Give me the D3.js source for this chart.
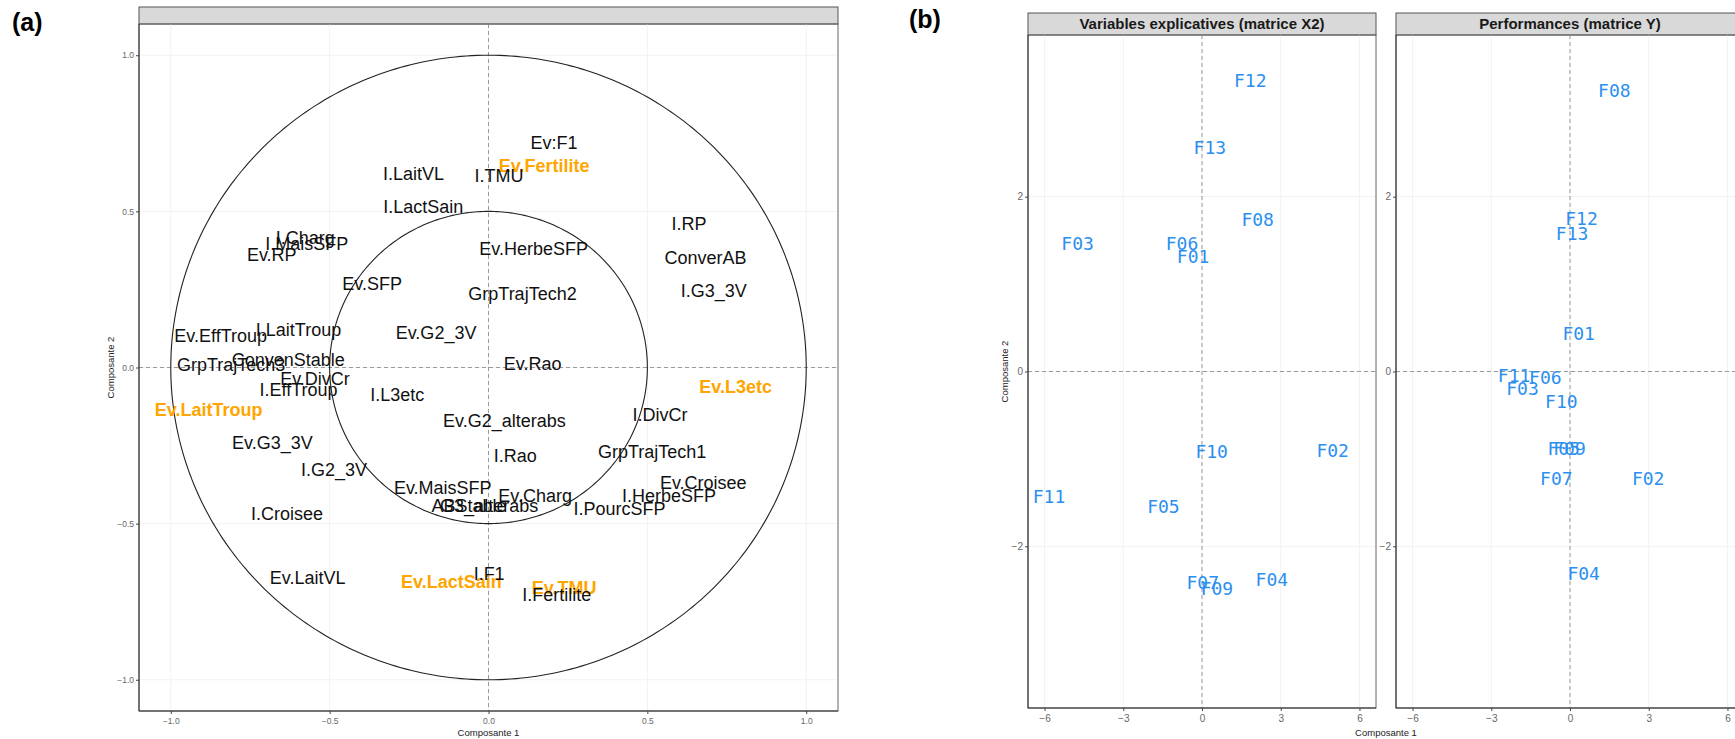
<!DOCTYPE html>
<html><head><meta charset="utf-8">
<script src="https://cdn.jsdelivr.net/npm/d3@7/dist/d3.min.js"></script>
<style>body{margin:0;background:#fff}svg{display:block}</style>
</head><body>
<script>
// ---------- Data: panel (a) correlation circle ----------
const varNames = ["Ev:F1","Ev.Fertilite","I.LaitVL","I.TMU","I.LactSain","I.Charg","I.MaisSFP","Ev.RP","I.RP","Ev.HerbeSFP","ConverAB","Ev.SFP","GrpTrajTech2","I.G3_3V","Ev.EffTroup","I.LaitTroup","Ev.G2_3V","ConvenStable","GrpTrajTech3","Ev.Rao","Ev.DivCr","I.EffTroup","I.L3etc","Ev.L3etc","Ev.LaitTroup","Ev.G2_alterabs","I.DivCr","Ev.G3_3V","I.Rao","GrpTrajTech1","I.G2_3V","Ev.Croisee","Ev.MaisSFP","Ev.Charg","I.HerbeSFP","ABStable","G3_alterabs","I.PourcSFP","I.Croisee","I.F1","Ev.LaitVL","Ev.LactSain","Ev.TMU","I.Fertilite"];
const varComp1 = [0.206,0.175,-0.236,0.033,-0.205,-0.577,-0.572,-0.682,0.631,0.142,0.683,-0.366,0.107,0.709,-0.843,-0.598,-0.165,-0.630,-0.810,0.139,-0.546,-0.598,-0.287,0.778,-0.881,0.050,0.540,-0.680,0.084,0.515,-0.486,0.676,-0.144,0.147,0.568,-0.061,0.002,0.412,-0.634,0.002,-0.569,-0.117,0.238,0.215];
const varComp2 = [0.720,0.645,0.621,0.615,0.514,0.416,0.397,0.360,0.459,0.379,0.352,0.267,0.237,0.246,0.101,0.122,0.112,0.026,0.008,0.011,-0.035,-0.070,-0.086,-0.063,-0.136,-0.170,-0.152,-0.242,-0.282,-0.271,-0.328,-0.370,-0.386,-0.410,-0.410,-0.442,-0.442,-0.452,-0.468,-0.660,-0.674,-0.687,-0.706,-0.727];
const highlighted = ["Ev.Fertilite","Ev.L3etc","Ev.LaitTroup","Ev.LactSain","Ev.TMU"];
const circleRadii = [1, 0.5];
const ticksA = [-1.0,-0.5,0.0,0.5,1.0];

// ---------- Data: panel (b) individuals ----------
const facetTitles = ["Variables explicatives (matrice X2)","Performances (matrice Y)"];
const farmIds = ["F01","F02","F03","F04","F05","F06","F07","F08","F09","F10","F11","F12","F13"];
const xX2c1 = [-0.34,4.98,-4.74,2.66,-1.47,-0.76,0.03,2.12,0.57,0.37,-5.83,1.84,0.30];
const xX2c2 = [1.31,-0.90,1.46,-2.38,-1.54,1.46,-2.42,1.74,-2.48,-0.91,-1.43,3.33,2.56];
const yYc1 = [0.33,2.98,-1.81,0.52,-0.24,-0.94,-0.52,1.69,-0.02,-0.33,-2.13,0.44,0.08];
const yYc2 = [0.44,-1.23,-0.19,-2.31,-0.88,-0.07,-1.22,3.22,-0.88,-0.34,-0.05,1.75,1.58];
const ticksBx = [-6,-3,0,3,6];
const ticksBy = [-2,0,2];

const W = 1735, H = 739;
const svg = d3.select("body").append("svg").attr("width", W).attr("height", H)
  .style("font-family", "'Liberation Sans', Arial, sans-serif");

const fmt = d => d3.format(".1f")(d);

// ================= Panel (a) =================
const A = {left:139, right:838, top:24, bottom:711, stripTop:7};
const xA = d3.scaleLinear().domain([-1.1,1.1]).range([A.left, A.right]);
const yA = d3.scaleLinear().domain([-1.1,1.1]).range([A.bottom, A.top]);
const gA = svg.append("g");

// strip
gA.append("rect").attr("x", A.left).attr("y", A.stripTop).attr("width", A.right-A.left)
  .attr("height", A.top-A.stripTop).attr("fill", "#d9d9d9").attr("stroke", "#555").attr("stroke-width", 1);
// grid
gA.append("g").selectAll("line").data(ticksA).join("line")
  .attr("x1", d=>xA(d)).attr("x2", d=>xA(d)).attr("y1", A.top).attr("y2", A.bottom)
  .attr("stroke", "#f2f2f2");
gA.append("g").selectAll("line").data(ticksA).join("line")
  .attr("y1", d=>yA(d)).attr("y2", d=>yA(d)).attr("x1", A.left).attr("x2", A.right)
  .attr("stroke", "#f2f2f2");
// zero dashed lines
gA.append("line").attr("x1", xA(0)).attr("x2", xA(0)).attr("y1", A.top).attr("y2", A.bottom)
  .attr("stroke", "#9a9a9a").attr("stroke-dasharray", "4,3");
gA.append("line").attr("y1", yA(0)).attr("y2", yA(0)).attr("x1", A.left).attr("x2", A.right)
  .attr("stroke", "#9a9a9a").attr("stroke-dasharray", "4,3");
// circles
const angles = d3.range(0, 361, 1).map(d => d*Math.PI/180);
circleRadii.forEach(r => {
  gA.append("path")
    .attr("d", d3.line().x(a => xA(r*Math.cos(a))).y(a => yA(r*Math.sin(a)))(angles))
    .attr("fill", "none").attr("stroke", "#222").attr("stroke-width", 1.1);
});
// labels
const varData = varNames.map((n,i) => ({n, x:varComp1[i], y:varComp2[i], hi: highlighted.includes(n)}));
gA.append("g").selectAll("text").data(varData.filter(d=>d.hi).concat(varData.filter(d=>!d.hi))).join("text")
  .attr("x", d=>xA(d.x)).attr("y", d=>yA(d.y)).attr("dy", "0.35em")
  .attr("text-anchor", "middle").attr("font-size", 18)
  .attr("font-weight", d=>d.hi ? "bold" : "normal")
  .attr("fill", d=>d.hi ? "#FFA500" : "#111")
  .text(d=>d.n);
// panel border
gA.append("rect").attr("x", A.left).attr("y", A.top).attr("width", A.right-A.left).attr("height", A.bottom-A.top)
  .attr("fill", "none").attr("stroke", "#666");
gA.append("line").attr("x1", A.left).attr("x2", A.left).attr("y1", A.top).attr("y2", A.bottom).attr("stroke", "#333");
gA.append("line").attr("x1", A.left).attr("x2", A.right).attr("y1", A.bottom).attr("y2", A.bottom).attr("stroke", "#333");
// axes
const axA_x = gA.append("g").attr("transform", `translate(0,${A.bottom})`)
  .call(d3.axisBottom(xA).tickValues(ticksA).tickFormat(fmt).tickSize(3).tickPadding(4));
const axA_y = gA.append("g").attr("transform", `translate(${A.left},0)`)
  .call(d3.axisLeft(yA).tickValues(ticksA).tickFormat(fmt).tickSize(3).tickPadding(2));
[axA_x, axA_y].forEach(ax => {
  ax.select(".domain").remove();
  ax.selectAll("line").attr("stroke", "#444");
  ax.selectAll("text").attr("font-size", 8.5).attr("fill", "#666").attr("font-family", "'Liberation Sans', Arial, sans-serif");
});
svg.append("text").attr("x", xA(0)).attr("y", 736).attr("text-anchor", "middle")
  .attr("font-size", 9.5).attr("fill", "#222").text("Composante 1");
svg.append("text").attr("transform", `translate(114,${(A.top+A.bottom)/2}) rotate(-90)`)
  .attr("text-anchor", "middle").attr("font-size", 9.5).attr("fill", "#222").text("Composante 2");
svg.append("text").attr("x", 12).attr("y", 31).attr("font-size", 25).attr("font-weight", "bold")
  .attr("fill", "#000").text("(a)");

// ================= Panel (b) =================
const B = {top:35, bottom:708, stripTop:13, facets:[[1028,1376],[1396,1744]]};
const yB = d3.scaleLinear().domain([-3.85,3.85]).range([B.bottom, B.top]);
const facetData = [
  farmIds.map((id,i)=>({id, x:xX2c1[i], y:xX2c2[i]})),
  farmIds.map((id,i)=>({id, x:yYc1[i], y:yYc2[i]}))
];
facetData.forEach((pts, fi) => {
  const [l, r] = B.facets[fi];
  const xB = d3.scaleLinear().domain([-6.63,6.63]).range([l, r]);
  const g = svg.append("g");
  g.append("rect").attr("x", l).attr("y", B.stripTop).attr("width", r-l).attr("height", B.top-B.stripTop)
    .attr("fill", "#d9d9d9").attr("stroke", "#555");
  g.append("text").attr("x", (l+r)/2).attr("y", (B.stripTop+B.top)/2).attr("dy", "0.35em")
    .attr("text-anchor", "middle").attr("font-size", 15).attr("font-weight", "bold").attr("fill", "#1a1a1a")
    .text(facetTitles[fi]);
  g.append("g").selectAll("line").data(ticksBx).join("line")
    .attr("x1", d=>xB(d)).attr("x2", d=>xB(d)).attr("y1", B.top).attr("y2", B.bottom).attr("stroke", "#f2f2f2");
  g.append("g").selectAll("line").data(ticksBy).join("line")
    .attr("y1", d=>yB(d)).attr("y2", d=>yB(d)).attr("x1", l).attr("x2", r).attr("stroke", "#f2f2f2");
  g.append("line").attr("x1", xB(0)).attr("x2", xB(0)).attr("y1", B.top).attr("y2", B.bottom)
    .attr("stroke", "#9a9a9a").attr("stroke-dasharray", "4,3");
  g.append("line").attr("y1", yB(0)).attr("y2", yB(0)).attr("x1", l).attr("x2", r)
    .attr("stroke", "#9a9a9a").attr("stroke-dasharray", "4,3");
  g.append("g").selectAll("text").data(pts).join("text")
    .attr("x", d=>xB(d.x)).attr("y", d=>yB(d.y)).attr("dy", "0.36em")
    .attr("text-anchor", "middle").attr("font-size", 18)
    .attr("font-family", "'DejaVu Sans Mono', monospace").attr("fill", "#2b8ff0")
    .text(d=>d.id);
  g.append("rect").attr("x", l).attr("y", B.top).attr("width", r-l).attr("height", B.bottom-B.top)
    .attr("fill", "none").attr("stroke", "#666");
  g.append("line").attr("x1", l).attr("x2", l).attr("y1", B.top).attr("y2", B.bottom).attr("stroke", "#333");
  g.append("line").attr("x1", l).attr("x2", r).attr("y1", B.bottom).attr("y2", B.bottom).attr("stroke", "#333");
  const ax = g.append("g").attr("transform", `translate(0,${B.bottom})`)
    .call(d3.axisBottom(xB).tickValues(ticksBx).tickSize(3).tickPadding(4));
  const ay = g.append("g").attr("transform", `translate(${l},0)`)
    .call(d3.axisLeft(yB).tickValues(ticksBy).tickSize(3).tickPadding(2));
  [ax, ay].forEach(a => {
    a.select(".domain").remove();
    a.selectAll("line").attr("stroke", "#444");
    a.selectAll("text").attr("font-size", 10).attr("fill", "#666").attr("font-family", "'Liberation Sans', Arial, sans-serif");
  });
});
svg.append("text").attr("x", 1386).attr("y", 736).attr("text-anchor", "middle")
  .attr("font-size", 9.5).attr("fill", "#222").text("Composante 1");
svg.append("text").attr("transform", `translate(1008,${(B.top+B.bottom)/2}) rotate(-90)`)
  .attr("text-anchor", "middle").attr("font-size", 9.5).attr("fill", "#222").text("Composante 2");
svg.append("text").attr("x", 909).attr("y", 28).attr("font-size", 25).attr("font-weight", "bold")
  .attr("fill", "#000").text("(b)");
</script>
</body></html>
